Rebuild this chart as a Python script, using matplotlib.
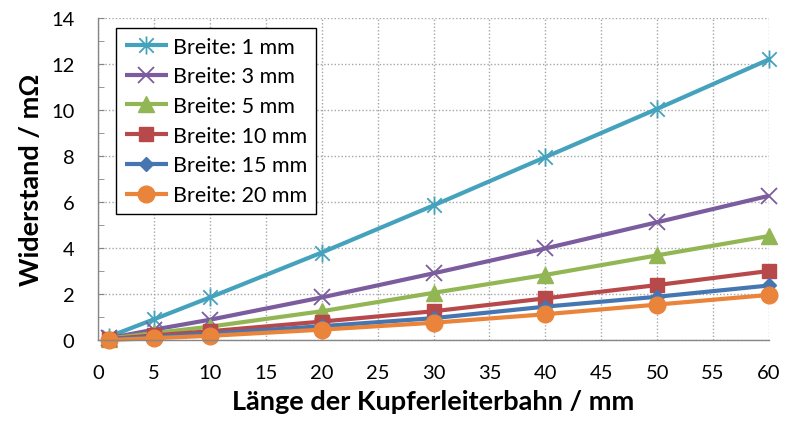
import matplotlib
matplotlib.use("Agg")
import matplotlib.pyplot as plt
from matplotlib.path import Path
from matplotlib.ticker import MultipleLocator

plt.rcParams['font.family'] = ['Lato', 'DejaVu Sans']

x_mm = [1, 5, 10, 20, 30, 40, 50, 60]
labels = ["Breite: 1 mm", "Breite: 3 mm", "Breite: 5 mm",
          "Breite: 10 mm", "Breite: 15 mm", "Breite: 20 mm"]
r_1mm = [0.15, 0.90, 1.85, 3.80, 5.85, 7.95, 10.05, 12.20]
r_3mm = [0.08, 0.45, 0.88, 1.85, 2.90, 3.98, 5.12, 6.27]
r_5mm = [0.06, 0.30, 0.58, 1.25, 2.05, 2.83, 3.68, 4.52]
r_10mm = [0.04, 0.20, 0.38, 0.80, 1.25, 1.81, 2.39, 3.00]
r_15mm = [0.03, 0.13, 0.27, 0.60, 0.95, 1.45, 1.88, 2.37]
r_20mm = [0.00, 0.08, 0.18, 0.45, 0.75, 1.12, 1.54, 1.96]
series = [r_1mm, r_3mm, r_5mm, r_10mm, r_15mm, r_20mm]
colors = ["#45A2BC", "#7B5C9E", "#93B655", "#B8494A", "#4676B2", "#E9843A"]

# Excel-style star marker: vertical bar plus an X
star = Path([(0, -1), (0, 1), (-0.8, -0.8), (0.8, 0.8), (-0.8, 0.8), (0.8, -0.8)],
            [Path.MOVETO, Path.LINETO, Path.MOVETO, Path.LINETO, Path.MOVETO, Path.LINETO])
markers = [star, "x", "^", "s", "D", "o"]
msizes = [13, 11, 11, 10.5, 7, 12]
mew = [1.3, 1.3, 1, 1, 1, 1]

fig = plt.figure(figsize=(7.85, 4.27), dpi=100)
ax = fig.add_axes([98/785, 1-341/427, (769-98)/785, (341-19)/427])

for y, c, m, ms, lab, mw in zip(series, colors, markers, msizes, labels, mew):
    ax.plot(x_mm, y, color=c, lw=3, marker=m, ms=ms, mec=c, mfc=c, mew=mw,
            label=lab, clip_on=False, solid_capstyle='butt')

ax.set_xlim(0, 60)
ax.set_ylim(0, 14)
ax.xaxis.set_major_locator(MultipleLocator(5))
ax.yaxis.set_major_locator(MultipleLocator(2))
ax.yaxis.set_minor_locator(MultipleLocator(1))

ax.grid(True, which='major', color='#A6A6A6', linestyle=(0, (1, 1.5)), lw=1)
ax.set_axisbelow(True)
for s in ['top', 'right']:
    ax.spines[s].set_visible(False)
for s in ['left', 'bottom']:
    ax.spines[s].set_color('#868686')
    ax.spines[s].set_linewidth(1)

ax.tick_params(axis='x', length=0, pad=17, labelsize=14.5)
ax.tick_params(axis='y', which='both', direction='in', length=4.5, color='#868686',
               pad=17, labelsize=14.5)

ax.set_xlabel("Länge der Kupferleiterbahn / mm", fontsize=19.5, fontweight='bold', labelpad=6)
ax.set_ylabel("Widerstand / mΩ", fontsize=19.5, fontweight='bold', labelpad=6)

leg = ax.legend(loc='upper left', bbox_to_anchor=(116/785, 1-29/427),
                bbox_transform=fig.transFigure, borderaxespad=0,
                fontsize=15.5, frameon=True, fancybox=False, framealpha=1,
                edgecolor='black', handlelength=2.0, handletextpad=0.25,
                labelspacing=0.45, borderpad=0.4)
leg.get_frame().set_linewidth(1)

fig.savefig("out.png", dpi=100)
